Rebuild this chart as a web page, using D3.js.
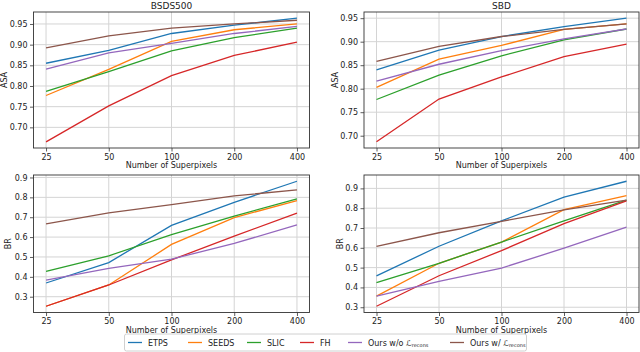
<!DOCTYPE html>
<html>
<head>
<meta charset="utf-8">
<script src="https://cdn.jsdelivr.net/npm/d3@7"></script>
<style>
  body { margin: 0; background: #fff; }
  svg { font-family: "DejaVu Sans", sans-serif; }
</style>
</head>
<body>
<svg id="chart" width="640" height="352"></svg>
<script>
// x categories
const superpixels = ["25", "50", "100", "200", "400"];
const methods = ["ETPS", "SEEDS", "SLIC", "FH", "Ours w/o", "Ours w/"];
const colors = ["#1f77b4", "#ff7f0e", "#2ca02c", "#d62728", "#9467bd", "#8c564b"];

// values, one row per method (same order as methods)
const asaBsds500 = [
  [0.855, 0.886, 0.927, 0.947, 0.964],
  [0.777, 0.840, 0.908, 0.936, 0.950],
  [0.787, 0.835, 0.885, 0.917, 0.940],
  [0.665, 0.752, 0.825, 0.874, 0.906],
  [0.841, 0.880, 0.903, 0.927, 0.944],
  [0.892, 0.921, 0.940, 0.950, 0.959]
];
const asaSbd = [
  [0.840, 0.882, 0.911, 0.932, 0.950],
  [0.803, 0.863, 0.892, 0.926, 0.938],
  [0.777, 0.829, 0.870, 0.904, 0.927],
  [0.687, 0.778, 0.825, 0.868, 0.895],
  [0.816, 0.852, 0.881, 0.906, 0.927],
  [0.858, 0.890, 0.911, 0.926, 0.938]
];
const brBsds500 = [
  [0.369, 0.472, 0.659, 0.775, 0.881],
  [0.252, 0.359, 0.563, 0.698, 0.784],
  [0.428, 0.506, 0.612, 0.706, 0.792],
  [0.252, 0.359, 0.485, 0.605, 0.721],
  [0.384, 0.443, 0.489, 0.568, 0.662],
  [0.666, 0.722, 0.763, 0.807, 0.838]
];
const brSbd = [
  [0.458, 0.608, 0.736, 0.856, 0.936],
  [0.356, 0.522, 0.629, 0.793, 0.863],
  [0.424, 0.522, 0.629, 0.736, 0.841],
  [0.305, 0.459, 0.586, 0.722, 0.837],
  [0.356, 0.431, 0.498, 0.598, 0.705],
  [0.607, 0.676, 0.734, 0.791, 0.841]
];

const asaTicks = [0.65, 0.70, 0.75, 0.80, 0.85, 0.90, 0.95];
const brTicks = [0.3, 0.4, 0.5, 0.6, 0.7, 0.8, 0.9];

const panels = [
  {data: asaBsds500, title: "BSDS500", ylabel: "ASA", ticks: asaTicks, fmt: ".2f",
   x0: 33.5, x1: 309.5, y0: 12, y1: 148, ylabX: 4.5},
  {data: asaSbd, title: "SBD", ylabel: "ASA", ticks: asaTicks, fmt: ".2f",
   x0: 364, x1: 639, y0: 12, y1: 148, ylabX: 335},
  {data: brBsds500, title: null, ylabel: "BR", ticks: brTicks, fmt: ".1f",
   x0: 33.5, x1: 309.5, y0: 175, y1: 312.5, ylabX: 8},
  {data: brSbd, title: null, ylabel: "BR", ticks: brTicks, fmt: ".1f",
   x0: 364, x1: 639, y0: 175, y1: 312.5, ylabX: 340}
];

const svg = d3.select("#chart");

panels.forEach(function(p) {
  const all = p.data.flat();
  const lo = d3.min(all), hi = d3.max(all);
  const pad = (hi - lo) * 0.05;

  const x = d3.scaleLinear().domain([-0.2, 4.2]).range([p.x0, p.x1]);
  const y = d3.scaleLinear().domain([lo - pad, hi + pad]).range([p.y1, p.y0]);
  const ticks = p.ticks.filter(t => t >= y.domain()[0] - 1e-9 && t <= y.domain()[1]);

  const g = svg.append("g");

  // grid
  g.append("g").selectAll("line").data(d3.range(superpixels.length)).join("line")
    .attr("x1", d => x(d)).attr("x2", d => x(d))
    .attr("y1", p.y0).attr("y2", p.y1)
    .attr("stroke", "#d4d4d4").attr("stroke-width", 1);
  g.append("g").selectAll("line").data(ticks).join("line")
    .attr("x1", p.x0).attr("x2", p.x1)
    .attr("y1", d => y(d)).attr("y2", d => y(d))
    .attr("stroke", "#d4d4d4").attr("stroke-width", 1);

  // lines
  const line = d3.line().x((d, i) => x(i)).y(d => y(d));
  p.data.forEach(function(vals, k) {
    g.append("path")
      .datum(vals)
      .attr("fill", "none")
      .attr("stroke", colors[k])
      .attr("stroke-width", 1.3)
      .attr("d", line);
  });

  // axes
  const xAxis = d3.axisBottom(x)
    .tickValues(d3.range(superpixels.length))
    .tickFormat(i => superpixels[i])
    .tickSize(3.5).tickPadding(2.5);
  g.append("g")
    .attr("transform", "translate(0," + p.y1 + ")")
    .call(xAxis)
    .call(a => a.select(".domain").remove());

  const yAxis = d3.axisLeft(y)
    .tickValues(ticks)
    .tickFormat(d3.format(p.fmt))
    .tickSize(3.5).tickPadding(2.5);
  g.append("g")
    .attr("transform", "translate(" + p.x0 + ",0)")
    .call(yAxis)
    .call(a => a.select(".domain").remove());

  g.selectAll(".tick text").attr("font-size", 8).attr("fill", "#222")
    .attr("font-family", "DejaVu Sans, sans-serif");
  g.selectAll(".tick line").attr("stroke", "#333").attr("stroke-width", 0.8);

  // frame
  g.append("rect")
    .attr("x", p.x0).attr("y", p.y0)
    .attr("width", p.x1 - p.x0).attr("height", p.y1 - p.y0)
    .attr("fill", "none").attr("stroke", "#333").attr("stroke-width", 0.9);

  // labels
  g.append("text")
    .attr("x", (p.x0 + p.x1) / 2).attr("y", p.y1 + 20)
    .attr("text-anchor", "middle").attr("font-size", 8).attr("fill", "#222")
    .text("Number of Superpixels");
  g.append("text")
    .attr("transform", "translate(" + p.ylabX + "," + ((p.y0 + p.y1) / 2) + ") rotate(-90)")
    .attr("text-anchor", "middle").attr("dy", "0.35em")
    .attr("font-size", 8).attr("fill", "#222")
    .text(p.ylabel);
  if (p.title) {
    g.append("text")
      .attr("x", (p.x0 + p.x1) / 2).attr("y", 8.5)
      .attr("text-anchor", "middle").attr("font-size", 9).attr("fill", "#222")
      .text(p.title);
  }
});

// legend
const legendX = [128, 188, 247, 300, 348, 450];
const lg = svg.append("g");
lg.append("rect")
  .attr("x", 124.5).attr("y", 334).attr("width", 402).attr("height", 17)
  .attr("rx", 2).attr("fill", "#fff").attr("stroke", "#d0d0d0").attr("stroke-width", 1);

methods.forEach(function(m, k) {
  const lx = legendX[k];
  lg.append("line")
    .attr("x1", lx).attr("x2", lx + 14)
    .attr("y1", 342.5).attr("y2", 342.5)
    .attr("stroke", colors[k]).attr("stroke-width", 1.3);
  const t = lg.append("text")
    .attr("x", lx + 20).attr("y", 345.5)
    .attr("font-size", 8).attr("fill", "#222")
    .text(m);
  if (k >= 4) {
    t.append("tspan").text(" ");
    t.append("tspan").attr("font-style", "italic").attr("font-family", "DejaVu Sans, sans-serif").text("ℒ");
    t.append("tspan").attr("font-size", 5).attr("dy", 1.5).text("recons");
  }
});
</script>
</body>
</html>
